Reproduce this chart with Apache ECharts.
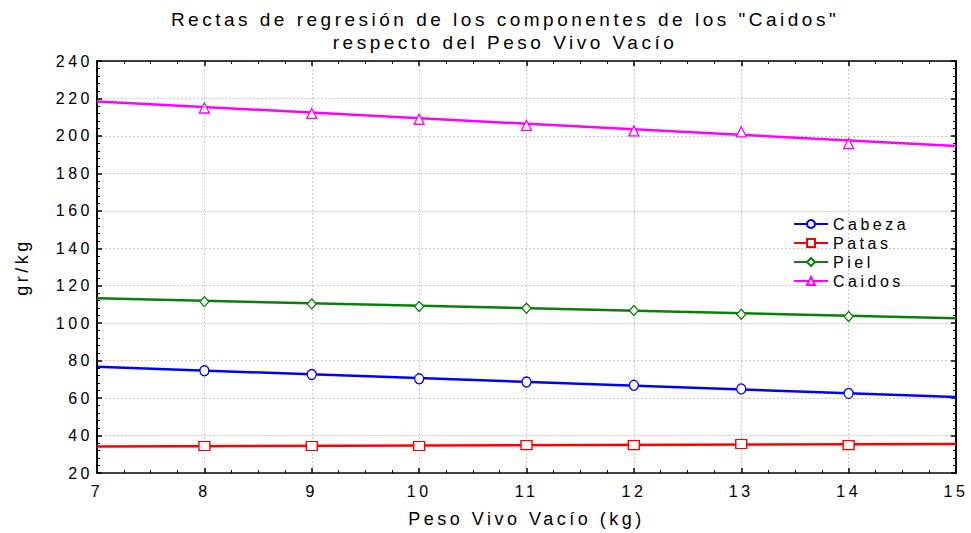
<!DOCTYPE html>
<html>
<head>
<meta charset="utf-8">
<script src="https://cdn.jsdelivr.net/npm/echarts@6/dist/echarts.min.js"></script>
<style>
  html, body { margin: 0; padding: 0; background: #fff; }
  #chart { width: 971px; height: 533px; }
  #chart text { letter-spacing: 3.5px; }
</style>
</head>
<body>
<div id="chart"></div>
<script>
// Peso Vivo Vacío (kg) at which the measured means were taken
const pesoVivo = [8, 9, 10, 11, 12, 13, 14];
// Ends of the fitted regression lines (x = 7 and x = 15)
const lineX = [7, 15];

const cabezaPts = [74.6, 72.6, 70.3, 68.6, 66.8, 64.9, 62.5];
const cabezaFit = [76.7, 60.6];

const patasPts = [34.4, 34.4, 34.4, 34.9, 34.9, 35.5, 34.9];
const patasFit = [34.1, 35.5];

const pielPts = [111.5, 110.3, 108.9, 108.0, 106.8, 104.8, 103.6];
const pielFit = [113.3, 102.7];

const caidosPts = [214.9, 212.0, 208.9, 205.6, 202.7, 202.2, 195.9];
const caidosFit = [218.4, 194.6];

const xTicks = { min: 7, max: 15, step: 1 };
const yTicks = { min: 20, max: 240, step: 20 };

const components = [
  { name: 'Cabeza', color: '#0000ff', symbol: 'circle',   size: [9, 10],  pts: cabezaPts, fit: cabezaFit },
  { name: 'Patas',  color: '#ff0000', symbol: 'rect',     size: [11, 9],  pts: patasPts,  fit: patasFit },
  { name: 'Piel',   color: '#0a800a', symbol: 'diamond',  size: [9, 10],  pts: pielPts,   fit: pielFit },
  { name: 'Caidos', color: '#ff00ff', symbol: 'triangle', size: [10, 10], pts: caidosPts, fit: caidosFit }
];

const FONT = 'Liberation Sans, Arial, sans-serif';

const series = [];
components.forEach(c => {
  series.push({
    name: c.name,
    type: 'line',
    data: lineX.map((x, i) => [x, c.fit[i]]),
    symbol: c.symbol,
    symbolSize: c.size,
    showSymbol: false,
    lineStyle: { color: c.color, width: 2.5 },
    itemStyle: { color: '#ffffff', borderColor: c.color, borderWidth: 1.3 },
    emphasis: { disabled: true },
    z: 2
  });
});
components.forEach(c => {
  series.push({
    name: c.name,
    type: 'scatter',
    data: pesoVivo.map((x, i) => [x, c.pts[i]]),
    symbol: c.symbol,
    symbolSize: c.size,
    itemStyle: { color: '#ffffff', borderColor: c.color, borderWidth: 1.3, opacity: 1 },
    emphasis: { disabled: true },
    z: 3
  });
});

const tickStyle = { show: true, inside: true, length: 5, lineStyle: { color: '#000', width: 1.5 } };
const minorStyle = (n) => ({ show: true, splitNumber: n, length: 3, lineStyle: { color: '#000', width: 1 } });

const chart = echarts.init(document.getElementById('chart'), null, { renderer: 'svg' });
chart.setOption({
  animation: false,
  backgroundColor: '#ffffff',
  textStyle: { fontFamily: FONT, color: '#000' },
  title: {
    text: 'Rectas de regresión de los componentes de los "Caidos"\nrespecto del Peso Vivo Vacío',
    left: 500,
    top: 3,
    textAlign: 'center',
    textStyle: { fontFamily: FONT, fontSize: 19, fontWeight: 'normal', color: '#000', lineHeight: 23 }
  },
  legend: {
    data: components.map(c => c.name),
    orient: 'vertical',
    left: 788,
    top: 211,
    itemWidth: 34,
    itemHeight: 10,
    itemGap: 3,
    textStyle: { fontFamily: FONT, fontSize: 16, color: '#000' }
  },
  grid: { left: 97, right: 15, top: 61, bottom: 56, containLabel: false },
  xAxis: [{
    type: 'value',
    min: xTicks.min, max: xTicks.max, interval: xTicks.step,
    name: 'Peso Vivo Vacío (kg)',
    nameLocation: 'middle',
    nameGap: 37,
    nameTextStyle: { fontFamily: FONT, fontSize: 18, color: '#000' },
    axisLine: { show: true, onZero: false, lineStyle: { color: '#444', width: 2 } },
    axisTick: tickStyle,
    minorTick: minorStyle(4),
    axisLabel: { fontFamily: FONT, fontSize: 16, color: '#000', margin: 10 },
    splitLine: { show: true, lineStyle: { color: '#c8c8c8', type: [2, 2], width: 1 } }
  }, {
    type: 'value', position: 'top',
    min: xTicks.min, max: xTicks.max, interval: xTicks.step,
    axisLine: { show: true, onZero: false, lineStyle: { color: '#000', width: 1.5 } },
    axisTick: tickStyle,
    minorTick: minorStyle(4),
    axisLabel: { show: false },
    splitLine: { show: false }
  }],
  yAxis: [{
    type: 'value',
    min: yTicks.min, max: yTicks.max, interval: yTicks.step,
    name: 'gr/kg',
    nameLocation: 'middle',
    nameGap: 66,
    nameRotate: 90,
    nameTextStyle: { fontFamily: FONT, fontSize: 18, color: '#000' },
    axisLine: { show: true, onZero: false, lineStyle: { color: '#000', width: 2 } },
    axisTick: tickStyle,
    minorTick: minorStyle(5),
    axisLabel: { fontFamily: FONT, fontSize: 16, color: '#000', margin: 4 },
    splitLine: { show: true, lineStyle: { color: '#c8c8c8', type: [2, 2], width: 1 } }
  }, {
    type: 'value', position: 'right',
    min: yTicks.min, max: yTicks.max, interval: yTicks.step,
    axisLine: { show: true, onZero: false, lineStyle: { color: '#000', width: 2 } },
    axisTick: tickStyle,
    minorTick: minorStyle(5),
    axisLabel: { show: false },
    splitLine: { show: false }
  }],
  series: series
});
</script>
</body>
</html>
